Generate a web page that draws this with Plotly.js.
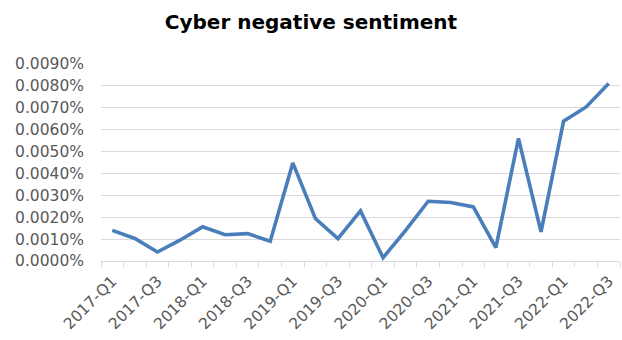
<!DOCTYPE html>
<html>
<head>
<meta charset="utf-8">
<script src="https://cdn.plot.ly/plotly-3.0.1.min.js"></script>
<style>html,body{margin:0;padding:0;background:#fff;}#chart{width:622px;height:340px;}</style>
</head>
<body>
<div id="chart"></div>
<script>
const quarters = ["2017-Q1","2017-Q2","2017-Q3","2017-Q4","2018-Q1","2018-Q2","2018-Q3","2018-Q4",
  "2019-Q1","2019-Q2","2019-Q3","2019-Q4","2020-Q1","2020-Q2","2020-Q3","2020-Q4",
  "2021-Q1","2021-Q2","2021-Q3","2021-Q4","2022-Q1","2022-Q2","2022-Q3"];
// negative sentiment share (fraction; 0.000014 = 0.0014%)
const sentiment = [0.0000140,0.0000103,0.0000041,0.0000095,0.0000156,0.0000120,0.0000125,0.0000090,
  0.0000448,0.0000194,0.0000102,0.0000229,0.0000015,0.0000140,0.0000273,0.0000267,
  0.0000247,0.0000061,0.0000560,0.0000133,0.0000639,0.0000704,0.0000811];
const yTicks = [0,0.00001,0.00002,0.00003,0.00004,0.00005,0.00006,0.00007,0.00008,0.00009];

const idx = quarters.map((q,i)=>i);
const labelIdx = idx.filter(i=>i%2===0);
const labelText = labelIdx.map(i=>quarters[i]);

const tickFont = {family:"DejaVu Sans, sans-serif", size:15.5, color:"#595959"};

Plotly.newPlot("chart", [{
  x: idx, y: sentiment, type:"scatter", mode:"lines",
  line:{color:"#4a7ebb", width:3.6},
  text: quarters, hoverinfo:"text+y"
}], {
  width:622, height:340,
  margin:{l:101, r:2, t:64, b:79},
  paper_bgcolor:"#fff", plot_bgcolor:"#fff",
  showlegend:false,
  title:{text:"<b>Cyber negative sentiment</b>", x:0.5, xanchor:"center", y:0.935, yanchor:"middle",
    font:{family:"DejaVu Sans, sans-serif", size:20, color:"#000"}},
  xaxis:{
    range:[-0.5, 22.5], showgrid:false, zeroline:false,
    tickmode:"array", tickvals:labelIdx, ticktext:labelText, tickangle:-45,
    ticks:"", tickfont:tickFont, ticklabelstandoff:4,
    showline:true, linecolor:"#d9d9d9", linewidth:1,
    minor:{ticks:"outside", tick0:-0.5, dtick:1, ticklen:5, tickcolor:"#d9d9d9", tickwidth:1, showgrid:false}
  },
  yaxis:{
    range:[0, 0.00009], tickmode:"array", tickvals:yTicks, tickformat:".4%",
    showgrid:true, gridcolor:"#d9d9d9", gridwidth:1, zeroline:false, showline:false,
    ticks:"", tickfont:tickFont, ticklabelstandoff:16
  }
}, {displayModeBar:false, staticPlot:true});
</script>
</body>
</html>
